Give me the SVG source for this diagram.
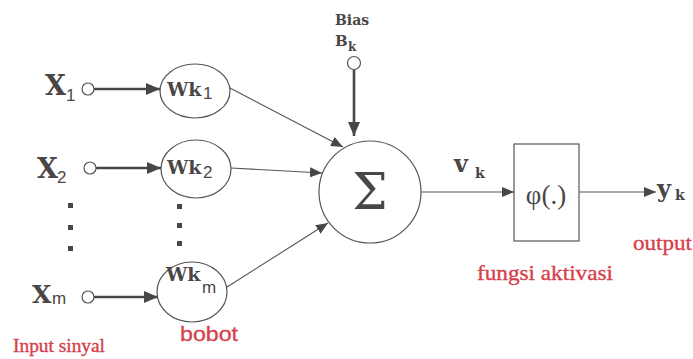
<svg xmlns="http://www.w3.org/2000/svg" width="693" height="359" viewBox="0 0 693 359">
<defs>
<marker id="ah" viewBox="0 0 12 10" refX="12" refY="5" markerWidth="12" markerHeight="10" markerUnits="userSpaceOnUse" orient="auto"><path d="M0,0 L12,5 L0,10 Z" fill="#4a4646"/></marker>
<marker id="ahb" viewBox="0 0 14 12" refX="14" refY="6" markerWidth="14" markerHeight="12" markerUnits="userSpaceOnUse" orient="auto"><path d="M0,0 L14,6 L0,12 Z" fill="#4a4646"/></marker>
<style>
.s{font-family:'DejaVu Serif','Liberation Serif',serif;font-weight:bold;fill:#4a4646}
.ss{font-family:'Liberation Sans',Arial,sans-serif;fill:#4a4646}
.rs{font-family:'Liberation Serif','Times New Roman',serif;fill:#d6414d;stroke:#d6414d;stroke-width:0.35}
.node{fill:#fff;stroke:#555;stroke-width:1.2}
.pt{fill:#fff;stroke:#555;stroke-width:1.2}
.thick{stroke:#4a4646;stroke-width:2.6;fill:none}
.thin{stroke:#555;stroke-width:1.1;fill:none}
.dot{fill:#4a4646}
</style>
</defs>
<rect width="693" height="359" fill="#fff"/>

<g id="connectors">
<line class="thick" x1="94" y1="89" x2="160" y2="89" marker-end="url(#ahb)"/>
<line class="thick" x1="96" y1="168" x2="161" y2="168" marker-end="url(#ahb)"/>
<line class="thick" x1="94" y1="297" x2="158" y2="297" marker-end="url(#ahb)"/>
<line class="thick" x1="354" y1="70" x2="354" y2="136" marker-end="url(#ahb)"/>
<line class="thin" x1="230" y1="88" x2="343" y2="147" marker-end="url(#ah)"/>
<line class="thin" x1="231" y1="168" x2="322" y2="173" marker-end="url(#ah)"/>
<line class="thin" x1="227" y1="287" x2="328" y2="223" marker-end="url(#ah)"/>
<line class="thin" x1="421" y1="192" x2="514" y2="192" marker-end="url(#ah)"/>
<line class="thin" x1="579" y1="192" x2="656" y2="192" marker-end="url(#ah)"/>
</g>

<g id="x1">
<text class="s" x="45" y="95" font-size="27">X</text>
<text class="ss" x="66" y="101" font-size="17">1</text>
<circle class="pt" cx="88" cy="89" r="6"/>
</g>
<g id="x2">
<text class="s" x="37" y="178" font-size="27">X</text>
<text class="ss" x="57" y="183" font-size="17">2</text>
<circle class="pt" cx="90" cy="168" r="6"/>
</g>
<g id="dots-x">
<rect class="dot" x="68" y="203" width="5" height="5"/>
<rect class="dot" x="68" y="225" width="5" height="5"/>
<rect class="dot" x="68" y="246" width="5" height="5"/>
</g>
<g id="xm">
<text class="s" x="32" y="303" font-size="25">X</text>
<text class="ss" x="52" y="304" font-size="17">m</text>
<circle class="pt" cx="88" cy="297" r="6"/>
</g>

<g id="wk1">
<ellipse class="node" cx="195" cy="91" rx="35" ry="27"/>
<text class="s" x="167" y="96" font-size="19">Wk</text>
<text class="ss" x="203" y="99" font-size="17">1</text>
</g>
<g id="wk2">
<ellipse class="node" cx="196" cy="169" rx="35" ry="29"/>
<text class="s" x="167" y="174" font-size="19">Wk</text>
<text class="ss" x="203" y="178" font-size="17">2</text>
</g>
<g id="dots-w">
<rect class="dot" x="177" y="204" width="5" height="5"/>
<rect class="dot" x="177" y="223" width="5" height="5"/>
<rect class="dot" x="177" y="241" width="5" height="5"/>
</g>
<g id="wkm">
<ellipse class="node" cx="192" cy="292" rx="35" ry="30"/>
<text class="s" x="166" y="281" font-size="19">Wk</text>
<text class="ss" x="202" y="293" font-size="17">m</text>
</g>

<g id="bias">
<text class="s" x="335" y="25" font-size="14">Bias</text>
<text class="s" x="335" y="46" font-size="15">B</text>
<text class="s" x="348" y="51" font-size="12">k</text>
<circle class="pt" cx="354" cy="63" r="6.5"/>
</g>

<g id="sum">
<circle class="node" cx="370" cy="192" r="51"/>
<text x="370" y="209" text-anchor="middle" font-family="'DejaVu Serif',serif" font-size="50" fill="#4a4646">Σ</text>
</g>

<g id="vk">
<text class="s" x="454" y="172" font-size="24">v</text>
<text class="s" x="475" y="178" font-size="14">k</text>
</g>

<g id="phi">
<rect x="514" y="144" width="65" height="97" fill="#fff" stroke="#555" stroke-width="1.2"/>
<text x="546" y="204" text-anchor="middle" font-family="'Liberation Serif','Times New Roman',serif" font-size="27" fill="#4a4646">φ(.)</text>
</g>

<g id="yk">
<text class="s" x="657" y="197" font-size="24">y</text>
<text class="s" x="675" y="200" font-size="14">k</text>
</g>

<g id="labels">
<text class="rs" x="633" y="250" font-size="21" textLength="59" lengthAdjust="spacingAndGlyphs">output</text>
<text class="rs" x="477" y="280" font-size="21" textLength="136" lengthAdjust="spacingAndGlyphs">fungsi aktivasi</text>
<text x="180" y="341" fill="#d6414d" stroke="#d6414d" stroke-width="0.3" font-family="'Liberation Sans',Arial,sans-serif" font-size="20" textLength="58" lengthAdjust="spacingAndGlyphs">bobot</text>
<text class="rs" x="13" y="352" font-size="18" textLength="92" lengthAdjust="spacingAndGlyphs">Input sinyal</text>
</g>
</svg>
